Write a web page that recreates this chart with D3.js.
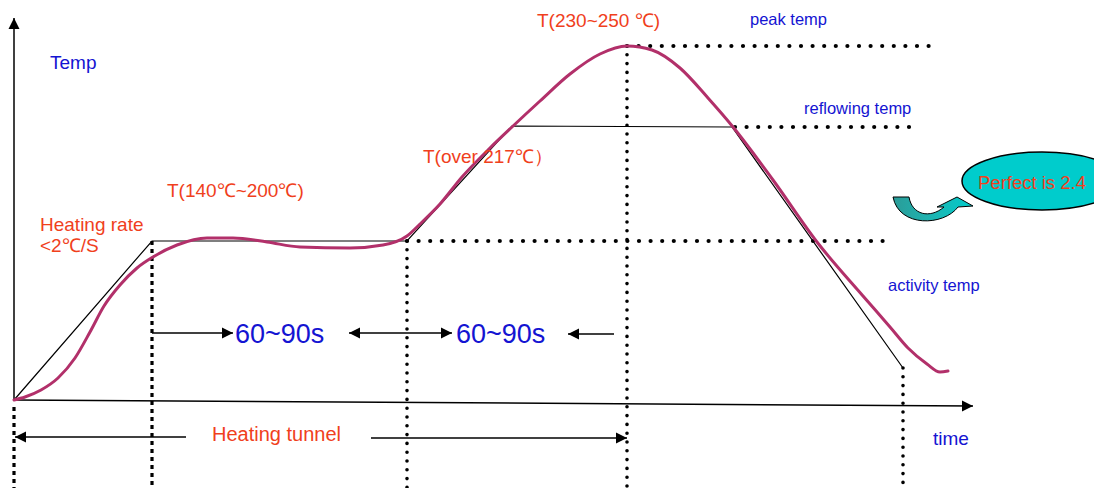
<!DOCTYPE html>
<html>
<head>
<meta charset="utf-8">
<script src="https://cdn.jsdelivr.net/npm/d3@7"></script>
<style>
  body { margin: 0; background: #fff; }
  svg text { font-family: "Liberation Sans", Arial, sans-serif; }
</style>
</head>
<body>
<script>
// reflow profile (arbitrary units: time from origin, temp above the axis)
const profileTime = [0, 11, 27, 44, 61, 76, 90, 106, 123, 139, 163, 193, 219, 253, 286, 336, 369, 393, 406, 426, 448, 476, 498, 526, 556, 586, 613, 638, 666, 694, 719, 759, 803, 849, 876, 894, 913, 926, 934];
const profileTemp = [0, 3, 10, 22, 42, 68, 94, 115, 132, 143, 155, 162, 162, 158, 153, 152, 155, 164, 176, 196, 223, 252, 273, 299, 326, 346, 354, 350, 332, 302, 273, 220, 158, 104, 73, 52, 36, 28, 29];

// ideal straight-line profile
const refTime = [0, 138, 393, 498, 718, 889];
const refTemp = [0, 159, 159, 274, 273, 32];

// phase boundaries and temperature levels
const phaseTimes = [0, 138, 393, 613, 889];
const levelNames = ["activity temp", "reflowing temp", "peak temp"];
const levelTemps = [159, 273, 354];
const levelStart = [393, 721, 613];
const levelEnd = [878, 901, 916];

const W = 1094, H = 488;
const blue = "#1414d2", red = "#f0401c";

const x = d3.scaleLinear().domain([0, 960]).range([14, 974]);
const y = d3.scaleLinear().domain([0, 380]).range([400, 20]);

const svg = d3.select("body").append("svg")
  .attr("width", W).attr("height", H);

const defs = svg.append("defs");
defs.append("marker")
  .attr("id", "head")
  .attr("viewBox", "0 0 10 10")
  .attr("refX", 10).attr("refY", 5)
  .attr("markerWidth", 7.5).attr("markerHeight", 7.5)
  .attr("markerUnits", "strokeWidth")
  .attr("orient", "auto-start-reverse")
  .append("path").attr("d", "M0,0L10,5L0,10Z").attr("fill", "#000");

const grad = defs.append("linearGradient").attr("id", "teal")
  .attr("x1", "0").attr("x2", "1").attr("y1", "0").attr("y2", "0");
grad.append("stop").attr("offset", "0").attr("stop-color", "#2a9c98");
grad.append("stop").attr("offset", "0.45").attr("stop-color", "#1fb3b0");
grad.append("stop").attr("offset", "1").attr("stop-color", "#00cccc");

// axes
svg.append("line")
  .attr("x1", x(0)).attr("y1", y(0)).attr("x2", x(0)).attr("y2", 18)
  .attr("stroke", "#000").attr("stroke-width", 1.5)
  .attr("marker-end", "url(#head)");
svg.append("line")
  .attr("x1", x(0)).attr("y1", y(0)).attr("x2", 973).attr("y2", 406)
  .attr("stroke", "#000").attr("stroke-width", 1.5)
  .attr("marker-end", "url(#head)");

// vertical phase lines
const profileAt = t => {
  const i = refTime.findIndex((v, k) => k > 0 && t <= v);
  if (t === 0) return 0;
  const t0 = refTime[i - 1], t1 = refTime[i];
  return refTemp[i - 1] + (refTemp[i] - refTemp[i - 1]) * (t - t0) / (t1 - t0);
};
phaseTimes.forEach((t, i) => {
  const square = i < 2;
  const top = i === 0 ? 407 : (i === 3 ? y(levelTemps[2]) : y(profileAt(t)));
  svg.append("line")
    .attr("x1", x(t)).attr("x2", x(t))
    .attr("y1", top).attr("y2", H)
    .attr("stroke", "#000")
    .attr("stroke-width", square ? 3.2 : 3.6)
    .attr("stroke-linecap", square ? "butt" : "round")
    .attr("stroke-dasharray", square ? "4 4" : "0 8.8");
});

// horizontal level lines
levelTemps.forEach((v, i) => {
  svg.append("line")
    .attr("x1", x(levelStart[i])).attr("x2", x(levelEnd[i]))
    .attr("y1", y(v)).attr("y2", y(v))
    .attr("stroke", "#000").attr("stroke-width", 4.2)
    .attr("stroke-linecap", "round")
    .attr("stroke-dasharray", "0 11.6");
});

// ideal profile
svg.append("path")
  .datum(refTime.map((t, i) => [t, refTemp[i]]))
  .attr("fill", "none").attr("stroke", "#000").attr("stroke-width", 1.2)
  .attr("d", d3.line().x(d => x(d[0])).y(d => y(d[1])));

// actual profile
svg.append("path")
  .datum(profileTime.map((t, i) => [t, profileTemp[i]]))
  .attr("fill", "none").attr("stroke", "#b2306a").attr("stroke-width", 3)
  .attr("stroke-linecap", "round")
  .attr("d", d3.line().curve(d3.curveMonotoneX).x(d => x(d[0])).y(d => y(d[1])));

// duration arrows
const arrow = (x1, y1, x2, y2, both) => {
  const l = svg.append("line")
    .attr("x1", x1).attr("y1", y1).attr("x2", x2).attr("y2", y2)
    .attr("stroke", "#000").attr("stroke-width", 1.5)
    .attr("marker-end", "url(#head)");
  if (both) l.attr("marker-start", "url(#head)");
};
arrow(x(phaseTimes[1]), 333, 233, 333);
arrow(349, 333, 452, 333, true);
arrow(614, 334, 568, 334);
arrow(186, 437, x(phaseTimes[0]) + 1, 437);
arrow(371, 438, x(phaseTimes[3]), 438);

const label = (txt, px, py, size, color) =>
  svg.append("text").attr("x", px).attr("y", py)
    .attr("font-size", size).attr("fill", color).text(txt);

label("60~90s", 235, 343, 27, blue);
label("60~90s", 456, 343, 27, blue);
label("Heating tunnel", 212, 441, 20, red);

label("Temp", 50, 69, 19, blue);
label("time", 933, 445, 19, blue);
label("Heating rate", 40, 231, 19, red);
label("<2℃/S", 40, 252, 19, red);
label("T(140℃~200℃)", 167, 197, 19, red);
label("T(over 217℃）", 423, 163, 19, red);
label("T(230~250 ℃)", 537, 27, 19, red);

label(levelNames[2], 750, 25, 16.5, blue);
label(levelNames[1], 804, 114, 16.5, blue);
label(levelNames[0], 888, 291, 16.5, blue);

// callout
svg.append("path")
  .attr("d", "M893,197 L909,197 C912,215 930,219 944,207 L937,207 L957,197 L973,206 L958,207 C944,226 899,228 893,197 Z")
  .attr("fill", "url(#teal)").attr("stroke", "#000").attr("stroke-width", 1)
  .attr("stroke-linejoin", "round");
svg.append("ellipse")
  .attr("cx", 1042).attr("cy", 181).attr("rx", 80).attr("ry", 29)
  .attr("fill", "#00cccc").attr("stroke", "#000").attr("stroke-width", 1.5);
label("Perfect is 2.4", 978, 189, 18.5, red);
</script>
</body>
</html>
